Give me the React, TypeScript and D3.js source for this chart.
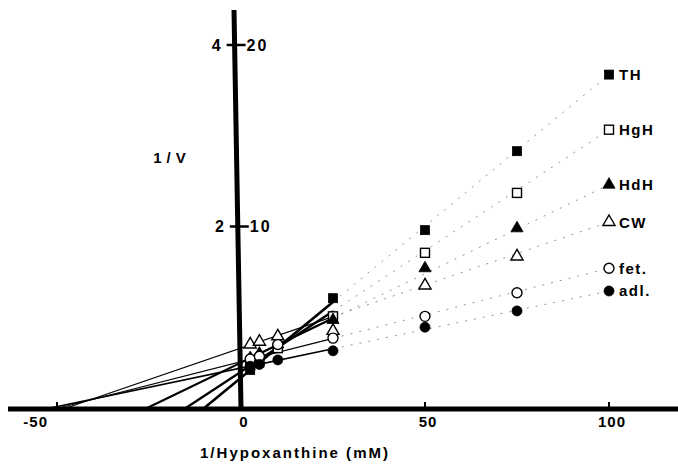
import React from 'react';
import * as d3 from 'd3';

// 1/[Hypoxanthine] (mM^-1) at which velocities were measured
const xConc = [2.5, 5, 10, 25, 50, 75];
const seriesNames = ['TH', 'HgH', 'HdH', 'CW', 'fet.', 'adl.'];
// 1/V values (left scale units) for each series
const thValues = [0.42, 0.5, 0.66, 1.21, 1.96, 2.83];
const hgHValues = [0.47, 0.53, 0.66, 1.01, 1.71, 2.37];
const hdHValues = [0.55, 0.6, 0.7, 0.97, 1.54, 1.98];
const cwValues = [0.7, 0.73, 0.79, 0.85, 1.35, 1.67];
const fetValues = [0.54, 0.57, 0.7, 0.77, 1.01, 1.27];
const adlValues = [0.46, 0.48, 0.53, 0.63, 0.89, 1.07];
// fitted Lineweaver-Burk lines: 1/V intercept and 1/S intercept (-1/Km)
const yIntercepts = [0.334, 0.4, 0.5, 0.66, 0.51, 0.44];
const xIntercepts = [-10, -15, -25.5, -47.5, -49.5, -51.8];
const xTicks = [-50, 0, 50, 100];
const yTicksLeft = [2, 4];
const yTicksRight = [10, 20];
const legendX = 100;
const solidEnd = 25;

const allValues = [thValues, hgHValues, hdHValues, cwValues, fetValues, adlValues];
const shapes = ['square', 'square', 'triangle', 'triangle', 'circle', 'circle'];
const filled = [true, false, true, false, false, true];
const lineWidths = [2.6, 2.4, 2.2, 1.2, 1.2, 1.6];

const W = 678;
const H = 473;
const FONT = '"Liberation Sans", Arial, Helvetica, sans-serif';

function Marker({ shape, fill, cx, cy }: { shape: string; fill: boolean; cx: number; cy: number }) {
  const f = fill ? '#000' : '#fff';
  const s = '#000';
  const sw = fill ? 0.8 : 1.4;
  if (shape === 'square') {
    return <rect x={cx - 4.5} y={cy - 4.5} width={9} height={9} fill={f} stroke={s} strokeWidth={sw} />;
  }
  if (shape === 'triangle') {
    const p = d3.symbol().type(d3.symbolTriangle).size(64)() as string;
    return <path d={p} transform={`translate(${cx},${cy})`} fill={f} stroke={s} strokeWidth={sw} />;
  }
  return <circle cx={cx} cy={cy} r={5} fill={f} stroke={s} strokeWidth={sw} />;
}

export default function App() {
  const x = d3.scaleLinear().domain([-50, 100]).range([57, 609]);
  const y = d3.scaleLinear().domain([0, 4]).range([408, 45]);
  const x0 = x(0);
  const axisTopX = x0 - 7; // scanned axis leans slightly
  const axisXAt = (py: number) => x0 - (7 * (408 - py)) / (408 - 10);

  const lineGen = d3
    .line<[number, number]>()
    .x((d) => x(d[0]))
    .y((d) => y(d[1]));

  const fit = (i: number, v: number) => yIntercepts[i] * (1 - v / xIntercepts[i]);

  return (
    <svg width={W} height={H} style={{ position: 'absolute', left: 0, top: 0, background: '#fff' }}>
      <rect width={W} height={H} fill="#fff" />
      {/* fitted lines */}
      {seriesNames.map((name, i) => (
        <g key={'l' + name}>
          <path
            d={lineGen([
              [xIntercepts[i], 0],
              [solidEnd, fit(i, solidEnd)],
            ]) as string}
            fill="none"
            stroke="#000"
            strokeWidth={lineWidths[i]}
          />
          <path
            d={lineGen([
              [solidEnd, fit(i, solidEnd)],
              [legendX, fit(i, legendX)],
            ]) as string}
            fill="none"
            stroke="#888"
            strokeWidth={0.9}
            strokeDasharray="2 7"
          />
        </g>
      ))}
      {/* axes */}
      <line x1={8} x2={W} y1={409} y2={409} stroke="#000" strokeWidth={5} />
      <line x1={x0} x2={axisTopX} y1={409} y2={10} stroke="#000" strokeWidth={5} />
      {xTicks
        .filter((t) => t !== 0)
        .map((t) => (
          <line key={'xt' + t} x1={x(t)} x2={x(t)} y1={409} y2={402} stroke="#000" strokeWidth={2} />
        ))}
      {xTicks.map((t) => (
        <text
          key={'xl' + t}
          x={t < 0 ? x(t) - 9 : x(t) + 3}
          y={427}
          textAnchor={t < 0 ? 'end' : 'middle'}
          fontFamily={FONT}
          fontSize={15}
          fontWeight="bold"
          letterSpacing={1}
        >
          {t < 0 ? '-' + Math.abs(t) : t}
        </text>
      ))}
      {yTicksLeft.map((t, k) => {
        const py = y(t);
        const ax = axisXAt(py);
        return (
          <g key={'yt' + t}>
            <line x1={ax - 8} x2={ax + 11} y1={py} y2={py} stroke="#000" strokeWidth={2.5} />
            <text x={ax - 14} y={py + 5.5} textAnchor="end" fontFamily={FONT} fontSize={16} fontWeight="bold">
              {t}
            </text>
            <text
              x={ax + 12}
              y={py + 5.5}
              textAnchor="start"
              fontFamily={FONT}
              fontSize={16}
              fontWeight="bold"
              letterSpacing={2}
            >
              {yTicksRight[k]}
            </text>
          </g>
        );
      })}
      {/* axis titles */}
      <text x={172} y={163} textAnchor="middle" fontFamily={FONT} fontSize={15} fontWeight="bold" letterSpacing={5}>
        1/V
      </text>
      <text
        x={200}
        y={458}
        fontFamily={FONT}
        fontSize={15}
        fontWeight="bold"
        textLength={188}
        lengthAdjust="spacing"
      >
        1/Hypoxanthine (mM)
      </text>
      {/* data points */}
      {seriesNames.map((name, i) => (
        <g key={'p' + name}>
          {xConc.map((c, j) => (
            <Marker key={j} shape={shapes[i]} fill={filled[i]} cx={x(c)} cy={y(allValues[i][j])} />
          ))}
        </g>
      ))}
      {/* legend at line ends */}
      {seriesNames.map((name, i) => {
        const ly = y(fit(i, legendX));
        return (
          <g key={'lg' + name}>
            <Marker shape={shapes[i]} fill={filled[i]} cx={x(legendX)} cy={ly} />
            <text
              x={x(legendX) + 10}
              y={ly + 5.5}
              fontFamily={FONT}
              fontSize={15}
              fontWeight="bold"
              letterSpacing={1.5}
            >
              {name}
            </text>
          </g>
        );
      })}
    </svg>
  );
}
